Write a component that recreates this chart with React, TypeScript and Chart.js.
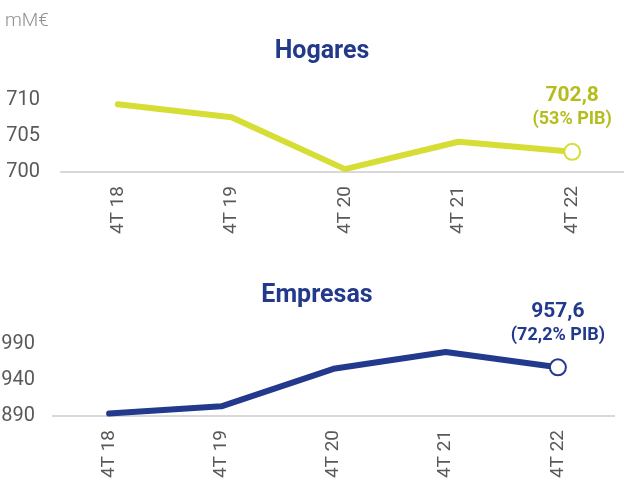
import React, { useEffect, useRef } from "react";
import { Chart, registerables } from "chart.js";

Chart.register(...registerables);

const categories = ["4T 18", "4T 19", "4T 20", "4T 21", "4T 22"];
const hogares = [709.4, 707.6, 700.4, 704.2, 702.8];
const empresas = [893.5, 903.5, 955.5, 979.0, 957.6];
const hogaresTicks = [700, 705, 710];
const empresasTicks = [890, 940, 990];
const hogaresNote = ["702,8", "(53% PIB)"];
const empresasNote = ["957,6", "(72,2% PIB)"];

const FONT = "Roboto";

type PanelProps = {
  title: string;
  titleX: number;
  values: number[];
  ticks: number[];
  note: string[];
  lineColor: string;
  textColor: string;
  width: number;
  axisWidth: number;
  tickPad: number;
  padRight: number;
};

const notePlugin = {
  id: "lastNote",
  afterDatasetsDraw(chart: any, _args: any, opts: any) {
    const ctx = chart.ctx;
    ctx.save();
    // panel title
    ctx.fillStyle = "#233a8c";
    ctx.textAlign = "center";
    ctx.textBaseline = "middle";
    ctx.font = `bold 25px ${FONT}`;
    ctx.fillText(opts.title, opts.titleX, 52);
    // note above last point
    const meta = chart.getDatasetMeta(0);
    const last = meta.data[meta.data.length - 1];
    if (last) {
      ctx.fillStyle = opts.color;
      ctx.font = `bold 21px ${FONT}`;
      ctx.fillText(opts.lines[0], last.x, last.y - 56);
      ctx.font = `bold 18px ${FONT}`;
      ctx.fillText(opts.lines[1], last.x, last.y - 32);
    }
    ctx.restore();
  },
};

function Panel(p: PanelProps) {
  const ref = useRef<HTMLCanvasElement>(null);
  useEffect(() => {
    if (!ref.current) return;
    const n = p.values.length;
    const chart = new Chart(ref.current, {
      type: "line",
      data: {
        labels: categories,
        datasets: [
          {
            data: p.values,
            borderColor: p.lineColor,
            borderWidth: 6,
            borderCapStyle: "round",
            borderJoinStyle: "round",
            tension: 0,
            pointRadius: p.values.map((_, i) => (i === n - 1 ? 8 : 0)),
            pointHoverRadius: p.values.map((_, i) => (i === n - 1 ? 8 : 0)),
            pointBackgroundColor: "#ffffff",
            pointBorderColor: p.lineColor,
            pointBorderWidth: 2,
            clip: false as any,
          },
        ],
      },
      options: {
        responsive: false,
        animation: false,
        layout: { padding: { top: 100, left: 0, right: p.padRight, bottom: 0 } },
        plugins: {
          legend: { display: false },
          tooltip: { enabled: false },
          title: { display: false },
          lastNote: { lines: p.note, color: p.textColor, title: p.title, titleX: p.titleX },
        } as any,
        scales: {
          x: {
            offset: true,
            grid: { display: false, drawTicks: false },
            border: { display: true, color: "#d9d9d9", width: 2 },
            ticks: {
              minRotation: 90,
              maxRotation: 90,
              padding: 14,
              color: "#595959",
              font: { family: FONT, size: 19 },
            },
            afterFit: (s: any) => {
              s.height = 72;
            },
          },
          y: {
            min: p.ticks[0],
            max: p.ticks[p.ticks.length - 1],
            grid: { display: false, drawTicks: false },
            border: { display: false },
            ticks: {
              stepSize: p.ticks[1] - p.ticks[0],
              padding: p.tickPad,
              color: "#595959",
              font: { family: FONT, size: 20 },
            },
            afterFit: (s: any) => {
              s.width = p.axisWidth;
            },
          },
        },
      },
      plugins: [notePlugin],
    });
    return () => chart.destroy();
  }, []);
  return <canvas ref={ref} width={p.width} height={244} style={{ display: "block" }} />;
}

export default function App() {
  return (
    <div
      style={{
        position: "absolute",
        left: 0,
        top: 0,
        width: 624,
        height: 483,
        overflow: "hidden",
        background: "#ffffff",
      }}
    >
      <div
        style={{
          position: "absolute",
          left: 5,
          top: 9,
          fontFamily: FONT,
          fontWeight: 300,
          fontSize: 19,
          color: "#8f8f8f",
          lineHeight: "22px",
          zIndex: 2,
        }}
      >
        mM€
      </div>
      <div style={{ position: "absolute", left: 0, top: 0 }}>
        <Panel
          title="Hogares"
          titleX={322}
          values={hogares}
          ticks={hogaresTicks}
          note={hogaresNote}
          lineColor="#d6de36"
          textColor="#b3be1d"
          width={640}
          axisWidth={61}
          tickPad={21}
          padRight={11}
        />
      </div>
      <div style={{ position: "absolute", left: 0, top: 244 }}>
        <Panel
          title="Empresas"
          titleX={317}
          values={empresas}
          ticks={empresasTicks}
          note={empresasNote}
          lineColor="#22398d"
          textColor="#22398d"
          width={624}
          axisWidth={53}
          tickPad={18}
          padRight={4}
        />
      </div>
    </div>
  );
}
